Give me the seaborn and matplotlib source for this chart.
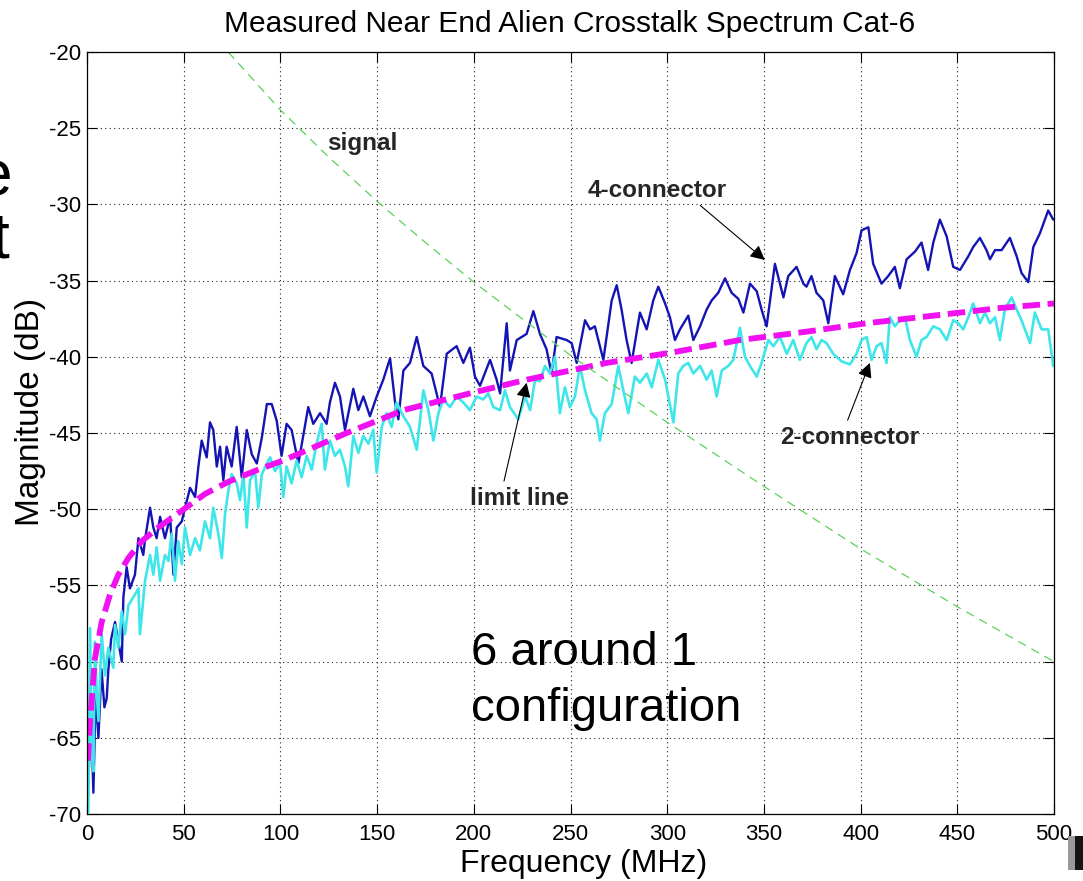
import matplotlib
matplotlib.use("Agg")
import matplotlib.pyplot as plt
import seaborn as sns
import pandas as pd
from matplotlib.patches import Rectangle

# ---------------- data ----------------
freq_4conn = [1.0, 2.0, 3.3, 4.5, 5.9, 7.5, 9.0, 10.2, 11.0, 12.5, 14.5, 16.2, 18.0, 18.8, 20.5, 22.2,
              24.8, 26.6, 29.1, 30.0, 32.6, 34.3, 36.0, 37.8, 40.3, 43.0, 44.7, 46.4, 49.0, 50.7, 53.3,
              55.9, 57.6, 59.3, 61.9, 63.6, 65.3, 67.1, 68.8, 70.5, 72.2, 74.8, 77.4, 80.0, 82.6, 85.2,
              87.8, 90.4, 93.0, 95.5, 98.1, 100.6, 103.2, 105.8, 109.3, 111.8, 114.4, 117.0, 120.5,
              123.9, 125.6, 128.2, 130.8, 133.4, 137.7, 140.3, 142.9, 146.3, 149.8, 153.2, 156.7,
              159.3, 161.0, 163.6, 167.0, 170.5, 173.9, 178.2, 182.5, 186.0, 191.1, 194.6, 198.0,
              200.6, 203.2, 208.4, 211.8, 213.6, 217.0, 218.7, 222.2, 227.3, 230.8, 234.2, 237.6,
              240.2, 242.8, 248.0, 250.6, 253.2, 257.5, 260.1, 262.6, 267.0, 271.3, 273.9, 276.4,
              279.0, 281.6, 285.9, 289.4, 292.8, 295.4, 298.9, 301.4, 304.0, 306.6, 310.9, 313.5,
              317.0, 320.4, 323.0, 326.4, 329.9, 333.3, 336.8, 339.4, 342.8, 346.3, 348.8, 351.4,
              355.7, 358.3, 360.1, 362.6, 366.9, 370.4, 372.0, 374.6, 377.2, 380.7, 383.3, 386.7,
              391.0, 394.5, 397.9, 400.5, 404.0, 406.5, 410.8, 414.3, 417.7, 420.3, 423.8, 428.1,
              431.5, 434.9, 437.6, 441.0, 444.5, 447.9, 451.4, 455.7, 458.2, 461.7, 465.1, 466.9,
              469.5, 472.9, 477.2, 480.7, 483.2, 486.7, 489.3, 492.7, 497.0, 499.6]
mag_4conn = [-67.0, -63.0, -68.6, -62.0, -65.0, -60.5, -63.0, -62.4, -60.6, -58.5, -57.4, -58.7, -60.0,
             -55.8, -53.8, -55.2, -54.3, -51.9, -53.0, -52.0, -49.9, -51.2, -51.9, -50.5, -51.9, -50.5,
             -54.3, -51.2, -50.8, -49.9, -48.6, -49.2, -47.2, -45.5, -46.6, -44.3, -44.8, -47.2, -45.9,
             -48.1, -45.9, -47.2, -44.6, -47.9, -44.8, -46.4, -47.0, -45.3, -43.1, -43.1, -44.2, -46.5,
             -44.4, -44.8, -47.0, -45.2, -43.3, -44.4, -43.7, -44.4, -43.0, -41.7, -42.6, -44.8, -42.1,
             -43.5, -42.6, -43.9, -42.6, -41.5, -40.1, -43.0, -44.1, -40.9, -40.4, -38.7, -40.6, -41.1,
             -43.3, -39.8, -39.3, -40.4, -39.4, -41.3, -41.9, -40.2, -41.5, -42.4, -37.8, -40.9, -38.9,
             -38.5, -37.0, -38.5, -39.5, -41.1, -38.7, -38.9, -39.1, -40.4, -37.6, -38.2, -38.0, -40.2,
             -36.3, -35.3, -36.9, -38.9, -40.4, -37.1, -38.2, -36.3, -35.4, -36.5, -37.4, -38.9, -38.2,
             -37.3, -38.9, -38.0, -36.9, -36.3, -35.8, -34.85, -35.8, -36.2, -37.1, -35.2, -35.7, -36.9,
             -38.0, -33.9, -35.2, -36.1, -34.7, -34.1, -35.2, -35.4, -34.7, -35.8, -36.3, -37.8, -34.7,
             -35.9, -34.3, -33.2, -31.7, -31.5, -33.9, -35.2, -34.7, -34.1, -35.5, -33.6, -33.1, -32.5,
             -34.3, -32.5, -31.0, -32.1, -34.1, -34.3, -33.4, -32.8, -32.2, -33.0, -33.6, -33.0, -33.0,
             -32.2, -33.4, -34.5, -35.1, -32.8, -31.9, -30.4, -31.0]

freq_2conn = [0.7, 1.6, 2.4, 3.3, 4.1, 5.0, 5.9, 7.6, 9.3, 11.0, 13.6, 14.5, 16.2, 18.0, 19.7, 21.4,
              24.8, 26.6, 27.4, 30.0, 32.6, 34.3, 36.0, 37.8, 40.3, 42.1, 43.8, 45.5, 47.2, 49.0, 50.7,
              53.3, 55.9, 58.4, 61.0, 63.6, 65.3, 67.9, 69.7, 71.4, 73.1, 74.8, 77.4, 79.1, 80.9, 82.6,
              84.3, 86.9, 88.6, 90.4, 93.0, 94.7, 97.2, 99.8, 101.5, 103.2, 105.8, 108.4, 111.0, 113.6,
              116.2, 118.7, 121.3, 123.0, 125.6, 128.2, 130.8, 133.4, 135.1, 137.7, 140.3, 142.9,
              145.5, 148.0, 149.8, 152.4, 154.9, 157.5, 160.1, 163.6, 167.0, 170.5, 173.9, 176.5,
              179.1, 181.7, 184.2, 187.7, 191.1, 194.6, 198.0, 201.5, 204.9, 207.5, 210.1, 213.6,
              216.1, 218.7, 223.0, 226.5, 229.1, 231.7, 234.2, 236.8, 239.4, 242.0, 244.5, 247.1,
              249.7, 252.3, 254.9, 257.5, 260.9, 263.5, 265.2, 267.8, 271.3, 274.7, 277.3, 279.9,
              283.3, 285.9, 289.4, 292.0, 295.4, 298.9, 303.2, 305.7, 308.3, 310.9, 313.5, 317.0,
              320.4, 323.0, 325.6, 328.2, 331.6, 334.2, 337.6, 340.2, 342.8, 346.3, 348.8, 352.3,
              354.9, 358.3, 361.8, 365.2, 368.6, 372.0, 374.6, 377.2, 379.8, 382.4, 385.8, 390.2,
              394.5, 397.9, 400.5, 403.1, 405.7, 408.3, 410.8, 413.4, 415.1, 417.7, 420.3, 422.9,
              425.5, 428.9, 431.5, 434.1, 437.6, 441.0, 444.5, 447.9, 450.5, 453.1, 455.7, 458.2,
              461.7, 464.3, 466.9, 469.5, 472.0, 474.6, 478.1, 480.7, 483.2, 487.6, 490.1, 493.6,
              497.0, 499.6]
mag_2conn = [-69.9, -57.8, -66.0, -67.2, -58.7, -62.0, -63.9, -58.2, -60.9, -59.1, -60.4, -57.6, -59.1,
             -56.7, -58.2, -56.3, -55.6, -55.2, -58.2, -54.7, -53.0, -54.3, -52.5, -54.7, -53.0, -53.4,
             -51.6, -54.7, -52.1, -53.6, -51.2, -53.0, -51.9, -52.7, -50.8, -51.9, -49.9, -51.6, -53.2,
             -50.3, -48.8, -47.7, -48.3, -49.4, -47.7, -51.2, -48.1, -47.5, -49.9, -47.7, -47.0, -46.6,
             -47.5, -47.0, -49.2, -47.2, -48.3, -46.8, -47.9, -46.5, -47.4, -45.7, -44.4, -47.4, -45.5,
             -46.5, -46.1, -47.2, -48.5, -45.2, -46.3, -45.2, -45.7, -44.8, -47.6, -44.6, -43.7, -44.6,
             -43.0, -43.9, -44.6, -46.1, -42.2, -43.5, -45.5, -43.7, -42.8, -43.3, -42.6, -43.0, -43.5,
             -42.6, -42.8, -42.4, -43.3, -43.5, -42.2, -43.3, -44.1, -42.6, -43.5, -41.5, -41.6, -40.6,
             -41.1, -40.0, -43.7, -42.0, -43.3, -42.6, -40.6, -42.2, -43.7, -44.1, -45.5, -43.7, -43.1,
             -40.6, -42.2, -43.7, -41.3, -41.7, -41.1, -42.0, -40.2, -41.5, -44.3, -41.1, -40.6, -40.4,
             -41.1, -40.6, -41.5, -40.9, -42.6, -40.9, -40.6, -40.2, -38.1, -40.0, -40.6, -41.3, -40.4,
             -38.9, -39.3, -38.7, -39.8, -38.9, -40.2, -39.1, -38.7, -39.5, -38.9, -39.1, -39.8, -40.3,
             -40.5, -39.8, -38.9, -38.7, -40.2, -39.3, -39.1, -40.4, -37.4, -38.0, -37.6, -37.4, -38.9,
             -40.0, -38.9, -38.7, -38.0, -38.2, -38.9, -37.6, -37.8, -38.2, -37.4, -36.5, -37.8, -37.1,
             -37.8, -37.4, -38.9, -36.9, -36.1, -36.9, -37.6, -39.1, -37.1, -38.2, -38.2, -40.6]

freq_limit = [0.5, 1.6, 4.1, 7.6, 11.9, 16.2, 21.4, 28.3, 36.9, 49.0, 61.0, 73.1, 88.6, 101.5, 134.3,
              163.6, 198.0, 227.4, 268.7, 303.2, 337.6, 372.1, 403.0, 437.6, 472.0, 500.0]
mag_limit = [-66.5, -63.9, -59.8, -57.4, -55.6, -54.3, -53.2, -52.1, -51.2, -50.1, -49.0, -48.2, -47.4,
             -46.8, -45.0, -43.5, -42.4, -41.5, -40.4, -39.7, -38.9, -38.35, -37.8, -37.3, -36.8, -36.5]

freq_signal = [73.0, 100.0, 125.0, 150.0, 175.0, 200.0, 250.0, 300.0, 350.0, 400.0, 450.0, 500.0]
mag_signal = [-20.0, -23.8, -26.9, -29.8, -32.5, -35.1, -39.9, -44.3, -48.5, -52.6, -56.4, -60.0]

x_ticks = [0, 50, 100, 150, 200, 250, 300, 350, 400, 450, 500]
y_ticks = [-70, -65, -60, -55, -50, -45, -40, -35, -30, -25, -20]

# ---------------- style ----------------
sns.set_theme(style="white")
plt.rcParams['font.family'] = ['Liberation Sans', 'DejaVu Sans']

W, H = 1083, 881
fig = plt.figure(figsize=(W / 100, H / 100), dpi=100)
fig.patch.set_facecolor('white')

L, R, T, B = 87, 1054, 52, 814
ax = fig.add_axes([L / W, 1 - B / H, (R - L) / W, (B - T) / H])
ax.set_facecolor('white')

df4 = pd.DataFrame({'f': freq_4conn, 'm': mag_4conn})
df2 = pd.DataFrame({'f': freq_2conn, 'm': mag_2conn})
dfl = pd.DataFrame({'f': freq_limit, 'm': mag_limit})
dfs = pd.DataFrame({'f': freq_signal, 'm': mag_signal})

sns.lineplot(data=df4, x='f', y='m', ax=ax, color='#1414b4', linewidth=1.7, sort=False)
sns.lineplot(data=df2, x='f', y='m', ax=ax, color='#3ee6ea', linewidth=1.9, sort=False)
sns.lineplot(data=dfl, x='f', y='m', ax=ax, color='#f010f0', linewidth=4.2, sort=False)
ax.lines[-1].set_dashes((3.0, 1.3))
sns.lineplot(data=dfs, x='f', y='m', ax=ax, color='#5ad25a', linewidth=0.9, sort=False)
ax.lines[-1].set_dashes((7, 5))

ax.set_xlim(0, 500)
ax.set_ylim(-70, -20)
ax.set_xticks(x_ticks)
ax.set_yticks(y_ticks)
ax.set_xticklabels([str(t) for t in x_ticks])
ax.set_yticklabels([str(t) for t in y_ticks])
ax.set_xlabel('')
ax.set_ylabel('')

ax.grid(True, color='#222222', linewidth=0.8, linestyle=(0, (1, 3)))
ax.tick_params(axis='both', direction='in', length=7, width=0.8, color='black',
               top=True, right=True, bottom=True, left=True, labelsize=16, labelcolor='black')
ax.tick_params(axis='x', pad=7)
ax.tick_params(axis='y', pad=4)
for s in ax.spines.values():
    s.set_visible(True)
    s.set_color('black')
    s.set_linewidth(0.9)

# titles / labels
fig.text(570 / W, 1 - 32 / H, 'Measured Near End Alien Crosstalk Spectrum Cat-6',
         ha='center', va='baseline', fontsize=21.5, color='black')
fig.text(584 / W, 1 - 872 / H, 'Frequency (MHz)', ha='center', va='baseline', fontsize=23, color='black')
fig.text(31 / W, 1 - 412 / H, 'Magnitude (dB)', ha='center', va='center', rotation=90,
         fontsize=24, color='black')

# annotations
ax.text(124, -26.0, 'signal', fontsize=17.5, fontweight='bold', ha='left', va='center')
ax.annotate('4-connector', xy=(350.5, -33.65), xytext=(259, -29.1), fontsize=17.5, fontweight='bold',
            ha='left', va='center',
            arrowprops=dict(arrowstyle='-|>', color='black', lw=0.8, mutation_scale=22,
                            shrinkA=0, shrinkB=0, relpos=(0.78, 0.0)))
ax.annotate('limit line', xy=(227.3, -41.7), xytext=(198, -49.3), fontsize=17.5, fontweight='bold',
            ha='left', va='center',
            arrowprops=dict(arrowstyle='-|>', color='black', lw=0.8, mutation_scale=22,
                            shrinkA=2, shrinkB=0, relpos=(0.33, 1.0)))
ax.annotate('2-connector', xy=(404.8, -40.4), xytext=(358.3, -45.3), fontsize=17.5, fontweight='bold',
            ha='left', va='center',
            arrowprops=dict(arrowstyle='-|>', color='black', lw=0.8, mutation_scale=22,
                            shrinkA=2, shrinkB=0, relpos=(0.47, 1.0)))

ax.text(198.5, -58.0, '6 around 1\nconfiguration', fontsize=34, ha='left', va='top',
        linespacing=1.35, color='black')

# slide remnants at the edges
fig.text(12 / W, 1 - 196 / H, 'e', ha='right', va='baseline', fontsize=46, color='black')
fig.text(10 / W, 1 - 257 / H, 't', ha='right', va='baseline', fontsize=46, color='black')
fig.patches.append(Rectangle((1068 / W, 1 - 870 / H), 7 / W, 34 / H, transform=fig.transFigure,
                             facecolor='#9a9a9a', edgecolor='none'))
fig.patches.append(Rectangle((1075 / W, 1 - 870 / H), 8 / W, 34 / H, transform=fig.transFigure,
                             facecolor='#151515', edgecolor='none'))

fig.savefig('out.png', dpi=100, facecolor='white')
